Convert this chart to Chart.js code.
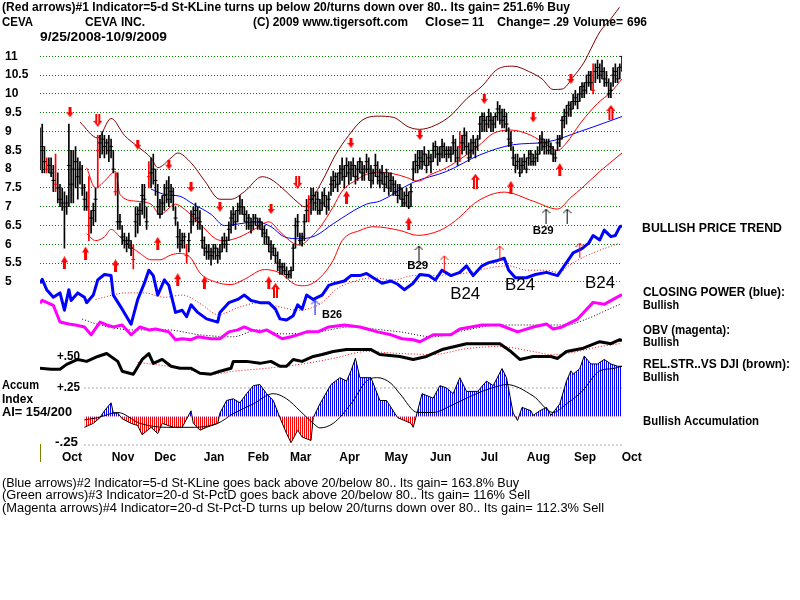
<!DOCTYPE html>
<html><head><meta charset="utf-8">
<script src="https://cdn.jsdelivr.net/npm/chart.js@4/dist/chart.umd.min.js"></script>
<style>html,body{margin:0;padding:0;background:#fff}canvas{display:block}</style>
</head><body>
<canvas id="c" width="800" height="600"></canvas>
<script>
// ---------------- DATA ----------------
const monthNames = ['Oct','Nov','Dec','Jan','Feb','Mar','Apr','May','Jun','Jul','Aug','Sep','Oct'];
const monthStartDays = [4,27,46,68,88,107,129,150,170,192,214,235,256];
const priceTicks = [5,5.5,6,6.5,7,7.5,8,8.5,9,9.5,10,10.5,11];

const closes = [8.5,8.6,8.2,8.0,8.1,7.9,7.7,7.6,7.5,7.2,
7.1,7.0,7.1,8.1,7.6,8.0,8.2,7.8,8.0,7.5,
7.2,7.0,6.5,6.7,6.9,7.2,8.5,8.7,8.8,8.6,
8.7,8.5,8.6,8.0,7.4,6.6,6.6,6.2,6.1,6.0,
6.1,5.9,5.6,6.6,6.8,6.9,7.3,7.2,6.6,7.8,
7.9,8.0,7.7,7.0,6.8,7.1,7.3,7.5,7.2,7.4,
7.3,6.7,6.2,6.0,6.1,6.2,5.7,6.1,6.6,6.8,
6.9,6.7,6.6,6.1,5.9,5.8,5.8,5.7,5.8,5.9,
5.7,5.8,6.0,6.1,6.0,6.4,6.7,6.8,6.6,6.9,
7.0,7.0,6.8,6.6,6.7,6.5,6.6,6.7,6.5,6.6,
6.4,6.3,6.2,6.0,5.8,5.9,5.7,5.5,5.4,5.4,
5.3,5.2,5.2,5.3,5.9,6.5,6.6,6.1,6.2,6.6,
6.9,7.0,7.2,7.3,7.1,7.2,6.9,7.1,7.3,7.0,
7.2,7.6,7.7,7.8,7.6,7.9,8.0,7.8,8.1,7.9,
8.0,8.1,7.8,8.0,8.2,7.9,8.0,8.2,8.0,7.7,
7.9,8.1,7.8,7.7,7.9,7.6,7.8,7.5,7.7,7.6,
7.4,7.3,7.5,7.2,7.1,7.3,7.0,7.4,8.0,8.2,
8.1,8.3,8.2,8.4,8.1,8.3,8.2,8.5,8.6,8.4,
8.4,8.6,8.5,8.4,8.5,8.4,8.7,8.5,8.3,8.6,
8.7,8.9,8.6,8.3,8.5,8.7,8.6,8.8,9.2,9.4,
9.3,9.2,9.4,9.3,9.2,9.4,9.6,9.5,9.3,9.4,
9.2,8.8,8.7,8.3,8.1,8.2,7.9,8.1,8.2,8.0,
8.3,8.4,8.2,8.3,8.4,8.7,8.8,8.6,8.7,8.5,
8.6,8.4,8.3,8.7,8.8,9.3,9.4,9.5,9.7,9.6,
9.8,9.9,9.8,10.0,10.2,10.1,10.3,10.5,10.3,10.1,
10.6,10.7,10.5,10.6,10.4,10.3,10.0,10.1,10.5,10.6,
10.4,10.71,11.0];
const highs = [9.1,9.2,8.6,8.3,8.3,8.3,8.1,8.4,7.9,7.6,
7.5,7.4,7.3,9.2,8.5,8.5,8.6,8.3,8.2,8.1,
7.6,7.4,7.8,6.9,7.1,7.5,8.9,8.9,9.0,8.9,
8.8,8.9,8.8,8.5,7.9,7.9,6.8,6.5,6.3,6.2,
6.3,6.1,6.0,7.0,7.0,7.1,7.6,7.6,7.0,8.2,
8.3,8.4,8.0,7.6,7.2,7.3,7.6,7.7,7.8,7.6,
7.5,7.0,6.6,6.4,6.3,6.3,6.0,6.3,6.9,7.0,
7.1,7.0,6.9,6.5,6.2,6.0,6.0,5.9,6.0,6.0,
5.9,6.0,6.2,6.3,6.2,6.6,6.9,7.0,6.9,7.1,
7.3,7.2,7.0,6.9,6.8,6.7,6.8,6.8,6.7,6.7,
6.6,6.5,6.4,6.2,6.1,6.0,5.9,5.8,5.6,5.5,
5.5,5.4,5.3,5.4,6.0,6.7,6.8,6.3,6.3,6.8,
7.2,7.3,7.5,7.5,7.4,7.4,7.2,7.4,7.5,7.3,
7.4,7.8,7.95,7.9,7.9,8.1,8.3,8.1,8.3,8.2,
8.2,8.3,8.1,8.2,8.3,8.2,8.1,8.4,8.3,8.1,
8.0,8.4,8.2,8.0,8.1,7.9,8.0,7.9,7.9,7.8,
7.7,7.6,7.6,7.5,7.4,7.5,7.4,7.6,8.2,8.4,
8.5,8.5,8.5,8.6,8.4,8.5,8.4,8.7,8.75,8.6,
8.6,8.8,8.7,8.6,8.6,8.6,8.9,8.8,8.6,9.0,
8.9,9.1,9.0,8.7,8.8,8.9,8.8,8.9,9.4,9.5,
9.5,9.4,9.6,9.5,9.4,9.5,9.8,9.7,9.6,9.6,
9.5,9.1,9.0,8.6,8.4,8.4,8.3,8.3,8.4,8.3,
8.5,8.5,8.4,8.5,8.6,8.9,9.0,8.8,8.8,8.8,
8.7,8.6,8.5,8.9,8.9,9.4,9.6,9.7,9.8,9.8,
10.0,10.1,10.0,10.2,10.3,10.3,10.5,10.6,10.6,10.8,
10.8,10.9,10.8,10.9,10.7,10.6,10.4,10.3,10.7,10.8,
10.7,10.8,11.0];
const lows = [8.0,7.9,7.9,7.9,7.9,7.8,7.4,7.4,7.1,7.0,
6.9,5.9,6.8,7.0,7.1,7.1,7.5,7.2,7.6,7.3,
6.9,6.9,6.1,6.3,6.5,6.6,7.5,8.3,8.4,8.3,
8.4,8.2,8.3,7.9,7.3,6.4,6.4,6.0,5.9,5.8,
5.9,5.7,5.35,6.2,6.3,6.5,6.8,6.7,6.4,7.5,
7.5,7.6,7.3,6.8,6.7,6.8,6.9,7.1,7.0,7.1,
6.9,6.5,5.9,5.8,5.9,5.9,5.5,5.8,6.3,6.5,
6.6,6.4,6.4,5.9,5.7,5.6,5.6,5.45,5.6,5.6,
5.5,5.6,5.8,5.9,5.8,6.1,6.3,6.5,6.4,6.6,
6.8,6.8,6.6,6.4,6.4,6.3,6.4,6.5,6.4,6.4,
6.2,6.0,6.0,5.8,5.6,5.7,5.5,5.3,5.2,5.2,
5.2,5.1,5.1,5.1,5.3,5.9,6.2,6.0,5.95,6.1,
6.6,6.6,6.8,6.9,6.9,6.8,6.8,6.9,7.0,6.8,
6.9,7.3,7.4,7.5,7.4,7.6,7.7,7.5,7.8,7.6,
7.7,7.8,7.6,7.7,7.9,7.7,7.7,7.9,7.7,7.5,
7.6,7.8,7.6,7.5,7.6,7.4,7.5,7.3,7.4,7.3,
7.3,7.1,7.2,7.0,7.0,7.0,6.95,7.0,7.7,7.9,
7.9,8.0,8.0,8.1,7.9,8.1,7.9,8.2,8.3,8.1,
8.2,8.3,8.3,8.2,8.3,8.2,8.4,8.2,8.1,8.2,
8.4,8.5,8.4,8.2,8.3,8.4,8.3,8.5,8.8,9.0,
9.0,9.0,9.1,9.0,9.0,9.1,9.3,9.2,9.1,9.1,
9.0,8.6,8.5,8.1,7.9,8.0,7.8,7.9,8.0,7.9,
8.1,8.1,8.1,8.1,8.2,8.4,8.5,8.4,8.4,8.4,
8.4,8.2,8.2,8.5,8.6,8.8,9.1,9.2,9.4,9.4,
9.6,9.7,9.6,9.8,9.9,9.9,10.0,10.2,10.1,10.0,
10.3,10.4,10.3,10.4,10.2,10.2,9.9,9.9,10.2,10.3,
10.3,10.4,10.6];
const redBarDays = [3,7,22,26,34,42,49,66,121,189,249];

const upperBandDays = [18,26,32,38,44,50,53,59,62,68,74,81,86,92,100,104,109,116,119,127,133,139,145,152,159,166,171,178,185,192,199,206,213,220,226,231,235,240,245,248,252,257,262];
const upperBand = [9.25,8.83,9.35,8.9,8.6,8.3,8.04,8.3,8.43,8.17,7.7,7.2,7.2,7.4,7.8,7.73,7.5,7.12,7.0,7.68,8.38,8.9,9.3,9.41,9.38,9.12,9.06,9.17,9.43,9.87,10.21,10.66,10.74,10.6,10.4,10.12,10.13,10.45,10.85,11.2,11.65,12.0,12.4];
const midBandDays = [21,25,29,34,36,43,50,54,61,65,72,79,83,90,97,103,108,114,117,122,126,132,136,142,147,153,159,165,170,176,183,190,197,204,212,221,228,233,237,243,251,257,262];
const midBand = [8.04,7.5,7.68,7.94,7.33,7.15,7.07,6.8,7.07,6.94,6.55,6.15,6.1,6.2,6.42,6.6,6.34,6.03,5.98,6.2,6.45,7.0,7.42,7.7,7.86,7.92,7.88,7.78,7.68,7.86,8.04,8.3,8.6,8.95,9.04,8.9,8.65,8.5,8.7,9.2,9.75,10.05,10.4];
const lowerBandDays = [21,25,29,32,36,41,45,50,54,59,63,68,72,79,86,92,101,108,115,119,126,132,136,144,150,162,170,180,187,197,209,222,233,239,244,252,262];
const lowerBand = [6.29,6.1,6.2,6.4,6.2,5.94,5.76,5.59,5.59,5.72,5.76,5.63,5.24,5.0,4.93,5.07,5.33,5.24,4.93,4.9,5.11,5.58,6.1,6.37,6.47,6.37,6.24,6.37,6.63,7.15,7.39,7.15,6.94,7.25,7.5,7.94,8.43];
const maDays = [50,56,63,69,77,83,90,97,104,110,117,124,132,147,153,168,183,198,213,228,243,255,262];
const ma = [7.47,7.33,7.28,7.07,6.8,6.5,6.55,6.6,6.47,6.2,6.15,6.23,6.55,7.07,7.15,7.65,7.94,8.38,8.65,8.72,9.0,9.25,9.4];

const cpDays = [0,1,3,6,9,11,13,14,17,20,21,24,26,29,32,33,37,41,44,47,49,51,53,56,58,61,64,66,68,71,75,80,81,85,89,92,95,99,103,106,108,111,114,116,118,120,123,127,130,133,137,140,144,147,150,154,158,161,164,168,171,175,178,181,185,189,192,195,199,202,206,209,211,214,219,223,228,233,237,240,244,247,249,252,254,257,259,261,262];
const closingPower = [45,48.5,39,32,36,20,39,29,36,32,27,34,48,53,52,34,21,7,30,45,57,52,34,48,43,18,20,14,25,18,12,9,18,27,30,34,29,27,27,21,12,11,15,25,21,34,30,34,43,45,47,52,52,54,50,45,47,44,39,45,53,52,48,57,52,55,61,52,61,64,66,68,57,50,50,53,55,52,64,73,77,82,89,85,94,88,89,97,98];
const cpMaDays = [25,39,47,56,64,73,80,90,99,108,116,127,133,142,150,159,168,176,185,194,202,211,219,228,233,240,249,261];
const cpMa = [30,36,36,32,34,25,16,23,27,23,20,27,39,47,50,48,52,52,53,55,59,61,57,57,55,64,73,82];

const obvDays = [0,1,6,9,13,16,20,23,27,30,33,37,41,45,49,52,58,61,64,68,71,77,81,85,89,92,95,99,102,106,109,113,116,120,125,130,137,144,152,158,163,168,171,177,185,189,199,207,215,222,228,231,235,242,249,254,258,262];
const obv = [98,104,94,60,56,54,50,34,60,54,50,54,34,50,44,46,40,24,26,24,30,26,26,40,44,50,44,40,44,34,26,30,34,40,40,50,54,50,40,34,26,24,20,34,34,46,54,54,40,50,56,46,50,66,100,96,106,116];
const obvMaDays = [19,27,42,57,72,87,98,109,125,140,154,162,177,192,207,222,237,246,255,261];
const obvMa = [66,54,44,44,34,30,44,36,40,50,44,40,30,44,54,54,54,66,84,96];

const rsDays = [0,5,9,12,17,21,26,30,35,37,42,46,49,51,55,59,63,68,72,77,81,86,87,93,99,104,108,111,114,118,123,127,132,138,143,149,153,162,168,174,181,192,199,207,212,216,222,230,233,237,244,252,257,261,262];
const relStrength = [0.44,0.435,0.435,0.46,0.485,0.475,0.5,0.515,0.475,0.425,0.41,0.485,0.515,0.465,0.485,0.45,0.44,0.44,0.415,0.41,0.425,0.44,0.475,0.475,0.465,0.475,0.45,0.45,0.485,0.475,0.5,0.51,0.525,0.535,0.535,0.535,0.51,0.5,0.485,0.5,0.535,0.565,0.565,0.565,0.525,0.485,0.5,0.5,0.49,0.525,0.54,0.575,0.565,0.585,0.58];
const rsMaDays = [44,51,64,78,87,102,117,132,147,162,177,192,207,222,230,237,252,261];
const rsMa = [0.47,0.46,0.44,0.41,0.425,0.44,0.46,0.49,0.525,0.515,0.51,0.54,0.55,0.525,0.51,0.515,0.55,0.565];

const aiDays = [20,24,27,29,32,33,35,37,41,44,46,50,53,55,60,64,68,69,72,75,80,81,84,87,90,93,96,99,102,105,108,111,113,116,118,122,123,126,131,135,138,140,142,144,149,153,156,161,167,168,170,172,177,180,183,186,189,192,197,201,204,208,210,213,215,217,221,222,225,228,230,234,237,239,240,243,245,248,251,254,257,260,262];
const accumIndex = [-0.095,-0.06,-0.01,0.05,0.12,0.03,0.03,-0.02,-0.06,-0.08,-0.16,-0.095,-0.15,-0.06,-0.095,-0.095,0.05,-0.06,-0.12,-0.095,-0.06,0.03,0.14,0.155,0.12,0.2,0.27,0.28,0.2,0.14,-0.01,-0.15,-0.23,-0.12,-0.18,-0.21,-0.01,0.11,0.28,0.34,0.31,0.4,0.51,0.34,0.34,0.14,0.14,-0.01,-0.06,-0.095,0.05,0.2,0.16,0.27,0.25,0.2,0.34,0.22,0.22,0.31,0.27,0.42,0.34,0.03,-0.035,0.08,0.05,0.01,0.05,0.08,0.01,0.11,0.31,0.4,0.37,0.42,0.53,0.46,0.46,0.5,0.46,0.44,0.44];
const aiMaDays = [20,26,35,45,57,68,80,87,96,105,111,117,123,126,132,140,147,152,158,162,170,177,185,192,199,207,210,222,231,237,244,252,258,262];
const aiMa = [-0.03,-0.01,0.035,-0.06,-0.095,-0.095,-0.06,0.025,0.11,0.2,0.155,0.05,-0.06,-0.1,-0.06,0.11,0.31,0.34,0.29,0.2,0.035,0.035,0.095,0.16,0.22,0.27,0.28,0.18,0.035,0.11,0.22,0.4,0.42,0.44];
const aiLevels = [0.25, -0.25];
const aiLevelStartDay = 20;

// signal arrows (day, price)
const downArrowDays = [13.5,44,58,68,81,104,140,171,200,222,239];
const downArrowPrices = [9.51,8.65,8.12,7.52,7.0,6.94,8.70,8.91,9.87,9.38,10.4];
const hollowDownDays = [26,116];
const hollowDownPrices = [9.3,7.65];
const upArrowDays = [11,20.5,34,53,62,74,103,138,166,212,234];
const upArrowPrices = [5.51,5.77,5.43,6.03,5.06,4.98,4.98,7.26,6.55,7.52,7.99];
const hollowUpDays = [106,196,257];
const hollowUpPrices = [4.77,7.68,9.51];
const thinUpDays = [182,207,243];
const thinUpPrices = [5.51,5.77,5.85];
const b29ArrowDays = [170.6,227.8,237.3];
const b29ArrowPrices = [5.77,6.75,6.75];
const b26ArrowDays = [123.8];
const b26ArrowCp = [22.7];

// annotation labels
const priceLabelTexts = ['B29','B29'];
const priceLabelDays = [170,226.5];
const priceLabelValues = [5.43,6.37];
const cpLabelTexts = ['B26','B24','B24','B24'];
const cpLabelDays = [131.5,191.4,216.1,252.1];
const cpLabelValues = [15.5,34.5,42.7,44.5];

// ---------------- RENDER ----------------
const FONT = '"Liberation Sans", Arial, sans-serif';
const pts = (xs, ys) => xs.map((x, i) => ({x: x, y: ys[i]}));
const redSet = new Set(redBarDays);

function mkCanvas(w, h, draw) {
  const c = document.createElement('canvas'); c.width = w; c.height = h;
  draw(c.getContext('2d')); return c;
}
const imgUp = mkCanvas(7, 13, g => { g.fillStyle = '#ff0000'; g.beginPath();
  g.moveTo(3.5,0); g.lineTo(7,6); g.lineTo(5,6); g.lineTo(5,13); g.lineTo(2,13); g.lineTo(2,6); g.lineTo(0,6); g.closePath(); g.fill(); });
const imgDown = mkCanvas(7, 10, g => { g.fillStyle = '#ff0000'; g.beginPath();
  g.moveTo(2,0); g.lineTo(5,0); g.lineTo(5,5); g.lineTo(7,5); g.lineTo(3.5,10); g.lineTo(0,5); g.lineTo(2,5); g.closePath(); g.fill(); });
const imgHollowUp = mkCanvas(9, 15, g => { g.fillStyle = '#ff0000'; g.beginPath();
  g.moveTo(4.5,0); g.lineTo(9,6); g.lineTo(7,6); g.lineTo(7,15); g.lineTo(2,15); g.lineTo(2,6); g.lineTo(0,6); g.closePath(); g.fill();
  g.fillStyle = '#ffffff'; g.fillRect(4, 4, 1, 11); });
const imgHollowDown = mkCanvas(9, 13, g => { g.fillStyle = '#ff0000'; g.beginPath();
  g.moveTo(2,0); g.lineTo(7,0); g.lineTo(7,7); g.lineTo(9,7); g.lineTo(4.5,13); g.lineTo(0,7); g.lineTo(2,7); g.closePath(); g.fill();
  g.fillStyle = '#ffffff'; g.fillRect(4, 0, 1, 10); });
function lineArrow(color) {
  return mkCanvas(9, 16, g => { g.strokeStyle = color; g.lineWidth = 1; g.beginPath();
    g.moveTo(4.5,1); g.lineTo(4.5,16); g.moveTo(0.5,5); g.lineTo(4.5,1); g.lineTo(8.5,5); g.stroke(); });
}
const imgThinRed = lineArrow('#ff0000');
const imgBlack = lineArrow('#000000');
const imgBlue = lineArrow('#0000ff');

const ctx0 = document.getElementById('c').getContext('2d');
const bluePat = ctx0.createPattern(mkCanvas(2, 1, g => { g.fillStyle = '#0000ff'; g.fillRect(0,0,1,1); }), 'repeat');
const redPat = ctx0.createPattern(mkCanvas(2, 1, g => { g.fillStyle = '#ff0000'; g.fillRect(0,0,1,1); }), 'repeat');

function fitText(ctx, s, x, y, size, bold, targetW, align) {
  ctx.font = (bold ? 'bold ' : '') + size + 'px ' + FONT;
  ctx.textAlign = align || 'left';
  ctx.textBaseline = 'middle';
  if (targetW) {
    const w = ctx.measureText(s).width;
    const k = Math.max(0.7, Math.min(1.25, targetW / w));
    ctx.save(); ctx.translate(x, y); ctx.scale(k, 1); ctx.fillText(s, 0, 0); ctx.restore();
  } else ctx.fillText(s, x, y);
}

const textPlugin = {
  id: 'texts',
  beforeDatasetsDraw(chart) {
    const ctx = chart.ctx, ai = chart.scales.yAi, rs = chart.scales.yRs;
    ctx.save(); ctx.fillStyle = '#000';
    fitText(ctx, '+.50', 57, rs.getPixelForValue(0.5), 12, true, 23);
    fitText(ctx, '+.25', 57, ai.getPixelForValue(0.25), 12, true, 23);
    fitText(ctx, '-.25', 55, ai.getPixelForValue(-0.25) - 2, 12, true, 23);
    ctx.restore();
  },
  afterDraw(chart) {
    const ctx = chart.ctx, xs = chart.scales.x, ys = chart.scales.y, cps = chart.scales.yCp;
    ctx.save(); ctx.fillStyle = '#000';
    // header
    fitText(ctx, '(Red arrows)#1 Indicator=5-d St-KLine turns up below 20/turns down over 80.. Its gain= 251.6% Buy', 2, 8, 12, true, 568);
    fitText(ctx, 'CEVA', 2, 23, 12, true, 31);
    fitText(ctx, 'CEVA INC.', 85, 23, 12, true, 60);
    fitText(ctx, '(C) 2009 www.tigersoft.com', 253, 23, 12, true, 155);
    fitText(ctx, 'Close=', 425, 23, 12, true, 44);
    fitText(ctx, '11', 472, 23, 12, true, 12);
    fitText(ctx, 'Change=', 497, 23, 12, true, 53);
    fitText(ctx, '.29', 553, 23, 12, true, 16);
    fitText(ctx, 'Volume=', 573, 23, 12, true, 50);
    fitText(ctx, '696', 627, 23, 12, true, 20);
    fitText(ctx, '9/25/2008-10/9/2009', 40, 38, 12, true, 127);
    // right side
    fitText(ctx, 'BULLISH PRICE TREND', 642, 229, 12, true, 140);
    fitText(ctx, 'CLOSING POWER (blue):', 643, 293, 12, true, 142);
    fitText(ctx, 'Bullish', 643, 306, 12, true, 36);
    fitText(ctx, 'OBV (magenta):', 643, 331, 12, true, 87);
    fitText(ctx, 'Bullish', 643, 343, 12, true, 36);
    fitText(ctx, 'REL.STR..VS DJI (brown):', 643, 365, 12, true, 147);
    fitText(ctx, 'Bullish', 643, 378, 12, true, 36);
    fitText(ctx, 'Bullish Accumulation', 643, 422, 12, true, 116);
    // left side
    fitText(ctx, 'Accum', 2, 386, 12, true, 37);
    fitText(ctx, 'Index', 2, 400, 12, true, 31);
    fitText(ctx, 'AI= 154/200', 2, 413, 12, true, 70);
    // footer
    fitText(ctx, '(Blue arrows)#2 Indicator=5-d St-KLine goes back above 20/below 80.. Its gain= 163.8% Buy', 2, 484, 12, false, 517);
    fitText(ctx, '(Green arrows)#3 Indicator=20-d St-PctD goes back above 20/below 80.. Its gain= 116% Sell', 2, 496, 12, false, 528);
    fitText(ctx, '(Magenta arrows)#4 Indicator=20-d St-Pct-D turns up below 20/turns down over 80.. Its gain= 112.3% Sell', 2, 509, 12, false, 602);
    // annotation labels
    priceLabelTexts.forEach((t, i) => fitText(ctx, t, xs.getPixelForValue(priceLabelDays[i]), ys.getPixelForValue(priceLabelValues[i]), 11, true, 21, 'center'));
    cpLabelTexts.forEach((t, i) => {
      const big = t === 'B24';
      fitText(ctx, t, xs.getPixelForValue(cpLabelDays[i]), cps.getPixelForValue(cpLabelValues[i]), big ? 17 : 11, !big, big ? 30 : 20, 'center');
    });
    // olive marker at left of month axis
    ctx.strokeStyle = '#808000'; ctx.lineWidth = 1;
    ctx.beginPath(); ctx.moveTo(40.5, 444); ctx.lineTo(40.5, 462); ctx.stroke();
    ctx.restore();
  }
};

const line = (data, axis, color, width, extra) => Object.assign({
  type: 'line', data: data, yAxisID: axis, borderColor: color, borderWidth: width,
  pointRadius: 0, fill: false, tension: 0, order: 4
}, extra || {});
const marks = (data, axis, img) => ({
  type: 'line', data: data, yAxisID: axis, showLine: false, pointStyle: img,
  pointRadius: 5, pointHoverRadius: 5, order: 0
});

const datasets = [
  marks(pts(downArrowDays, downArrowPrices), 'y', imgDown),
  marks(pts(hollowDownDays, hollowDownPrices), 'y', imgHollowDown),
  marks(pts(upArrowDays, upArrowPrices), 'y', imgUp),
  marks(pts(hollowUpDays, hollowUpPrices), 'y', imgHollowUp),
  marks(pts(thinUpDays, thinUpPrices), 'y', imgThinRed),
  marks(pts(b29ArrowDays, b29ArrowPrices), 'y', imgBlack),
  marks(pts(b26ArrowDays, b26ArrowCp), 'yCp', imgBlue),
  { type: 'line', data: closes.map((c, i) => ({x: i, y: c})), yAxisID: 'y', showLine: false,
    pointStyle: 'line', pointRadius: 2, pointBorderWidth: 1,
    pointBorderColor: c => redSet.has(c.dataIndex) ? '#ff0000' : '#000000', order: 1 },
  { type: 'bar', data: highs.map((h, i) => ({x: i, y: [lows[i], h]})), yAxisID: 'y',
    barThickness: 1, grouped: false, borderWidth: 0,
    backgroundColor: c => redSet.has(c.dataIndex) ? '#ff0000' : '#000000', order: 2 },
  line(pts(upperBandDays, upperBand), 'y', '#800000', 1, {cubicInterpolationMode: 'monotone', order: 3}),
  line(pts(midBandDays, midBand), 'y', '#ff0000', 1, {cubicInterpolationMode: 'monotone', order: 3}),
  line(pts(lowerBandDays, lowerBand), 'y', '#ff0000', 1, {cubicInterpolationMode: 'monotone', order: 3}),
  line(pts(maDays, ma), 'y', '#0000ff', 1, {cubicInterpolationMode: 'monotone', order: 3}),
  line(pts(cpDays, closingPower), 'yCp', '#0000ff', 3, {borderJoinStyle: 'round'}),
  line(pts(cpMaDays, cpMa), 'yCp', '#ff0000', 1, {borderDash: [1, 2], cubicInterpolationMode: 'monotone', order: 5}),
  line(pts(obvDays, obv), 'yObv', '#ff00ff', 3, {borderJoinStyle: 'round'}),
  line(pts(obvMaDays, obvMa), 'yObv', '#000000', 1, {borderDash: [1, 2], cubicInterpolationMode: 'monotone', order: 5}),
  line(pts(rsDays, relStrength), 'yRs', '#000000', 3, {borderJoinStyle: 'round'}),
  line(pts(rsMaDays, rsMa), 'yRs', '#ff0000', 1, {borderDash: [1, 2], cubicInterpolationMode: 'monotone', order: 5}),
  line(pts(aiMaDays, aiMa), 'yAi', '#000000', 1, {cubicInterpolationMode: 'monotone', order: 5}),
  line(pts(aiDays, accumIndex), 'yAi', '#000000', 1, {fill: {target: 'origin', above: bluePat, below: redPat}, order: 6}),
].concat(aiLevels.map(v => line([{x: aiLevelStartDay, y: v}, {x: 262, y: v}], 'yAi', '#555555', 1, {borderDash: [1, 3], order: 7})));

new Chart(ctx0, {
  type: 'line',
  data: { datasets: datasets },
  options: {
    responsive: false, animation: false, devicePixelRatio: 1,
    layout: { padding: { left: 5, right: 178, top: 0, bottom: 134 } },
    plugins: { legend: { display: false }, tooltip: { enabled: false }, title: { display: false } },
    events: [],
    scales: {
      x: { type: 'linear', axis: 'x', min: 0, max: 262, position: 'bottom', offset: false,
        grid: { display: false, drawTicks: false }, border: { display: false },
        afterBuildTicks: s => { s.ticks = monthStartDays.map(v => ({value: v})); },
        afterFit: s => { s.height = 20; },
        ticks: { autoSkip: false, maxRotation: 0, minRotation: 0, labelOffset: 23, padding: 4, color: '#000',
          font: { family: FONT, size: 12, weight: 'bold' }, callback: (v, i) => monthNames[i] } },
      y: { type: 'linear', axis: 'y', position: 'left', min: 0.638, max: 12.308,
        grid: { color: '#008000', drawTicks: false, lineWidth: 1 }, border: { display: false, dash: [1, 2] },
        afterBuildTicks: s => { s.ticks = priceTicks.map(v => ({value: v})); },
        afterFit: s => { s.width = 35; },
        ticks: { crossAlign: 'far', padding: 0, color: '#000', font: { family: FONT, size: 12, weight: 'bold' },
          callback: v => String(v) } },
      yCp: { type: 'linear', axis: 'y', position: 'left', display: false, min: -105.45, max: 300 },
      yObv: { type: 'linear', axis: 'y', position: 'left', display: false, min: -192, max: 700 },
      yRs: { type: 'linear', axis: 'y', position: 'left', display: false, min: 0.045, max: 2.275 },
      yAi: { type: 'linear', axis: 'y', position: 'left', display: false, min: -0.2586, max: 3.586 }
    }
  },
  plugins: [textPlugin]
});
</script>
</body></html>
